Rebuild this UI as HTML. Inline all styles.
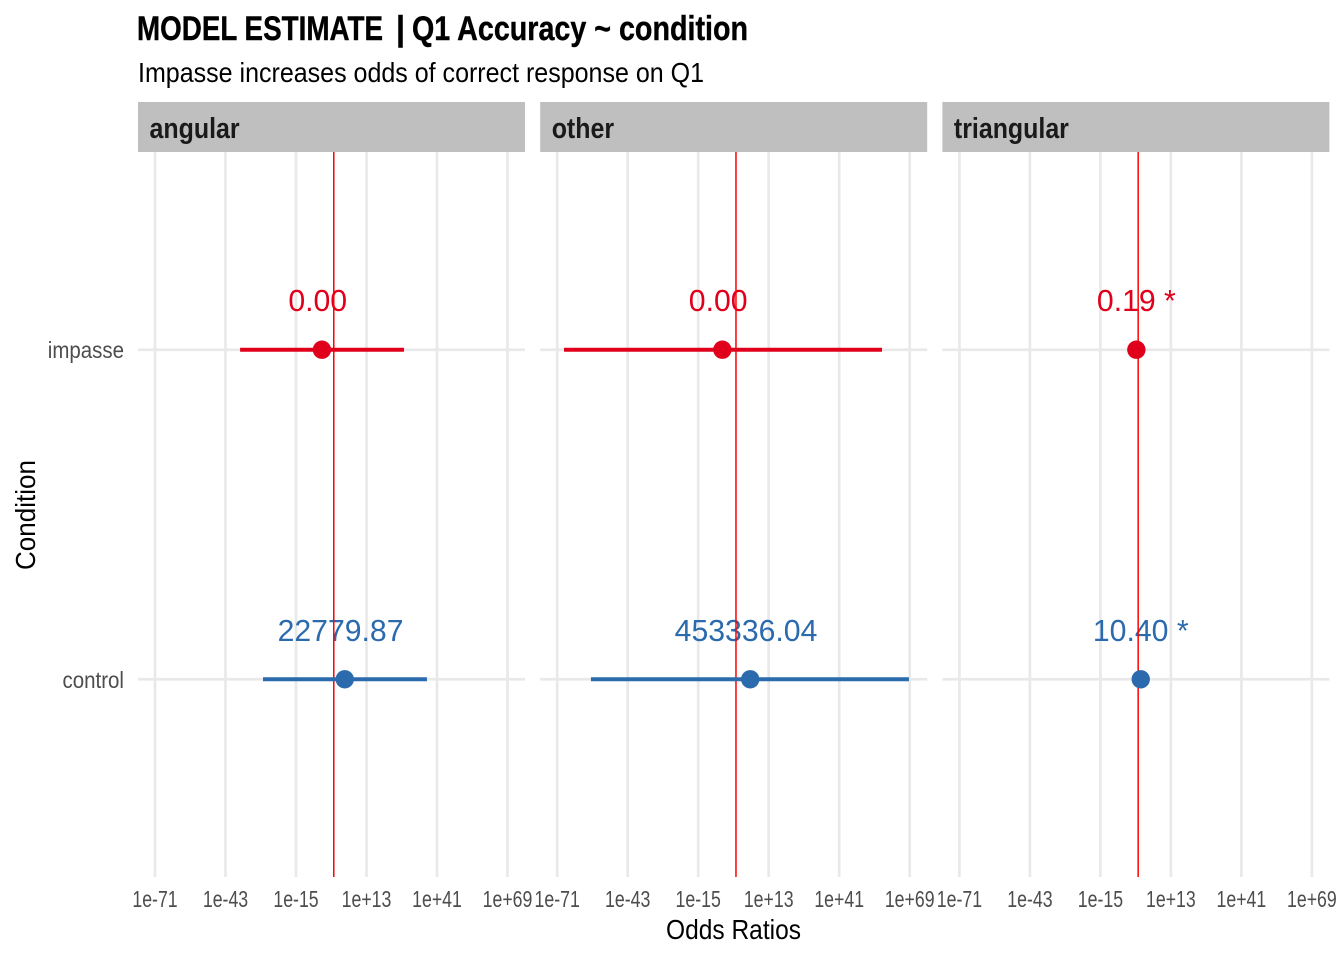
<!DOCTYPE html>
<html>
<head>
<meta charset="utf-8">
<style>
html,body{margin:0;padding:0;background:#fff;width:1344px;height:960px;overflow:hidden}
svg{display:block}
text{font-family:"Liberation Sans",sans-serif}
.lab{font-family:"Liberation Sans",sans-serif;font-size:30.2px;white-space:pre}
.tick{font-size:23px;fill:#4d4d4d}
</style>
</head>
<body>
<svg id="chart" width="1344" height="960" viewBox="0 0 1344 960" xmlns="http://www.w3.org/2000/svg">
<rect x="0" y="0" width="1344" height="960" fill="#fff"/>
<g font-size="34" font-weight="bold" fill="#000" stroke="#000" stroke-width="0.4">
<text x="137" y="40" textLength="246" lengthAdjust="spacingAndGlyphs">MODEL ESTIMATE</text>
<text x="396" y="40" textLength="9" lengthAdjust="spacingAndGlyphs">|</text>
<text x="412" y="40" textLength="336" lengthAdjust="spacingAndGlyphs">Q1 Accuracy ~ condition</text>
</g>
<text x="138" y="82" font-size="28" fill="#000" textLength="566" lengthAdjust="spacingAndGlyphs">Impasse increases odds of correct response on Q1</text>
<text x="666" y="939" font-size="28" fill="#000" textLength="135" lengthAdjust="spacingAndGlyphs">Odds Ratios</text>
<text transform="translate(35,570) rotate(-90)" x="0" y="0" font-size="28" fill="#000" textLength="110" lengthAdjust="spacingAndGlyphs">Condition</text>
<g id="plots"></g>
</svg>
<script>
const facets = ["angular", "other", "triangular"];
const categories = ["control", "impasse"];
const tickValues = [-71, -43, -15, 13, 41, 69];
const tickLabels = ["1e-71", "1e-43", "1e-15", "1e+13", "1e+41", "1e+69"];
// log10 odds ratios, per facet
const impasseEstimate = [-4.7, -5.4, -0.72];
const impasseLow = [-37.2, -68.3, -1.2];
const impasseHigh = [27.9, 58.0, -0.3];
const controlEstimate = [4.36, 5.66, 1.02];
const controlLow = [-28.1, -57.6, 0.6];
const controlHigh = [37.0, 68.7, 1.5];
const impasseLabels = ["0.00 ", "0.00 ", "0.19 *"];
const controlLabels = ["22779.87 ", "453336.04 ", "10.40 *"];
const referenceValue = 0;

const SVGNS = "http://www.w3.org/2000/svg";
const panelWidth = 387, panelStep = 402.2, panelLeft0 = 138;
const panelTop = 152, panelBottom = 877;
const impasseColor = "#e0001b", controlColor = "#2b6aad";
const plots = document.getElementById("plots");

function xScale(facet, v) {
  return panelLeft0 + facet * panelStep + 17 + (v + 71) * (352.5 / 140);
}
function yScale(cat) {
  const i = categories.indexOf(cat);
  return panelBottom - (i + 0.6) * ((panelBottom - panelTop) / 2.2);
}
function make(tag, attrs, parent) {
  const el = document.createElementNS(SVGNS, tag);
  for (const k in attrs) el.setAttribute(k, attrs[k]);
  parent.appendChild(el);
  return el;
}
function fit(el, ratio) {
  el.setAttribute("textLength", (el.getComputedTextLength() * ratio).toFixed(1));
  el.setAttribute("lengthAdjust", "spacingAndGlyphs");
}

categories.forEach(function (cat) {
  const t = make("text", {x: 124, y: yScale(cat) + 8.5, "text-anchor": "end", class: "tick"}, plots);
  
  
  t.textContent = cat;
  fit(t, 0.89);
});

facets.forEach(function (name, f) {
  const left = panelLeft0 + f * panelStep;
  const g = make("g", {}, plots);
  
  

  const strip = make("rect", {x: left, y: 102, width: panelWidth, height: 50, fill: "#bfbfbf"}, g);
  
  

  const stripText = make("text", {x: left + 11.5, y: 138, "font-size": 29, "font-weight": "bold", fill: "#1a1a1a"}, g);
  
  
  stripText.textContent = name;
  fit(stripText, 0.86);

  tickValues.forEach(function (v, i) {
    const x = xScale(f, v);
    const grid = make("line", {x1: x, x2: x, y1: panelTop, y2: panelBottom, stroke: "#e9e9e9", "stroke-width": 2.7}, g);
    
    
    const t = make("text", {x: x, y: 907, "text-anchor": "middle", class: "tick"}, g);
    
    
    t.textContent = tickLabels[i];
    fit(t, 0.77);
  });
  categories.forEach(function (cat) {
    const y = yScale(cat);
    const grid = make("line", {x1: left, x2: left + panelWidth, y1: y, y2: y, stroke: "#e9e9e9", "stroke-width": 2.7}, g);
    
    
  });

  function drawLabel(cat, color, est, label) {
    const y = yScale(cat);
    const t = make("text", {x: xScale(f, est[f]), y: y - 38.5, "text-anchor": "middle", class: "lab", fill: color}, g);
    
    
    t.setAttributeNS("http://www.w3.org/XML/1998/namespace", "xml:space", "preserve");
    t.textContent = label[f];
  }
  function drawMarks(cat, color, est, low, high) {
    const y = yScale(cat);
    const ci = make("line", {x1: xScale(f, low[f]), x2: xScale(f, high[f]), y1: y, y2: y, stroke: color, "stroke-width": 4}, g);
    
    
    const pt = make("circle", {cx: xScale(f, est[f]), cy: y, r: 9.2, fill: color}, g);
    
    
  }

  drawLabel("impasse", impasseColor, impasseEstimate, impasseLabels);
  drawLabel("control", controlColor, controlEstimate, controlLabels);

  const zero = xScale(f, referenceValue);
  const ref = make("line", {x1: zero, x2: zero, y1: panelTop, y2: panelBottom, stroke: "#ff0000", "stroke-width": 1.5}, g);
  
  

  drawMarks("impasse", impasseColor, impasseEstimate, impasseLow, impasseHigh);
  drawMarks("control", controlColor, controlEstimate, controlLow, controlHigh);
});
</script>
</body>
</html>
